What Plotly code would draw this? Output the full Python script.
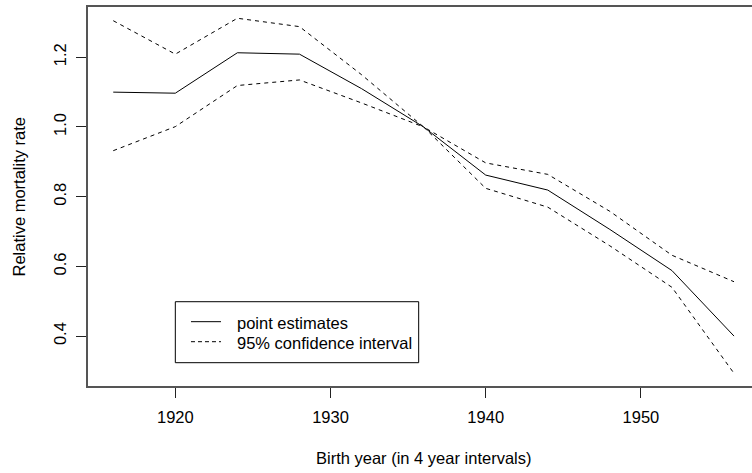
import plotly.graph_objects as go

# Data
birth_year = [1916, 1920, 1924, 1928, 1932, 1936, 1940, 1944, 1948, 1952, 1956]
point_est = [1.100, 1.097, 1.213, 1.209, 1.110, 1.000, 0.862, 0.819, 0.706, 0.588, 0.400]
upper_ci = [1.305, 1.209, 1.312, 1.288, 1.150, 1.000, 0.897, 0.864, 0.758, 0.632, 0.556]
lower_ci = [0.932, 1.001, 1.119, 1.135, 1.069, 1.000, 0.824, 0.770, 0.659, 0.540, 0.293]

x_ticks = [1920, 1930, 1940, 1950]
y_ticks = [0.4, 0.6, 0.8, 1.0, 1.2]
y_tick_labels = ["0.4", "0.6", "0.8", "1.0", "1.2"]
legend_labels = ["point estimates", "95% confidence interval"]

FONT = "Liberation Sans, Arial, sans-serif"
FS = 16.5

fig = go.Figure()
fig.add_trace(go.Scatter(x=birth_year, y=point_est, mode="lines",
                         line=dict(color="black", width=1), showlegend=False))
fig.add_trace(go.Scatter(x=birth_year, y=upper_ci, mode="lines",
                         line=dict(color="black", width=1, dash="4px,4px"), showlegend=False))
fig.add_trace(go.Scatter(x=birth_year, y=lower_ci, mode="lines",
                         line=dict(color="black", width=1, dash="4px,4px"), showlegend=False))

# custom legend box (R style)
fig.add_shape(type="rect", xref="paper", yref="paper", x0=0.1315, x1=0.4980, y0=0.0615, y1=0.2224,
              line=dict(color="black", width=1), fillcolor="white", layer="above")
fig.add_shape(type="line", xref="paper", yref="paper", x0=0.1551, x1=0.2003, y0=0.1697, y1=0.1697,
              line=dict(color="black", width=1))
fig.add_shape(type="line", xref="paper", yref="paper", x0=0.1551, x1=0.2003, y0=0.1169, y1=0.1169,
              line=dict(color="black", width=1, dash="4px,3px"))
fig.add_annotation(xref="paper", yref="paper", x=0.2214, y=0.1675, text=legend_labels[0],
                   showarrow=False, xanchor="left", yanchor="middle",
                   font=dict(family=FONT, size=FS, color="black"))
fig.add_annotation(xref="paper", yref="paper", x=0.2214, y=0.1135, text=legend_labels[1],
                   showarrow=False, xanchor="left", yanchor="middle",
                   font=dict(family=FONT, size=FS, color="black"))

# axis titles
fig.add_annotation(xref="paper", yref="paper", x=0.506, y=-0.19, text="Birth year (in 4 year intervals)",
                   showarrow=False, xanchor="center", yanchor="middle",
                   font=dict(family=FONT, size=FS, color="black"))
fig.add_annotation(xref="paper", yref="paper", x=-0.1054, y=0.5, text="Relative mortality rate",
                   showarrow=False, xanchor="center", yanchor="middle", textangle=-90,
                   font=dict(family=FONT, size=FS, color="black"))

fig.update_layout(
    width=752, height=473, autosize=False,
    margin=dict(l=88, r=0, t=7, b=87),
    paper_bgcolor="white", plot_bgcolor="white",
    font=dict(family=FONT, size=FS, color="black"),
    xaxis=dict(range=[1914.374, 1957.158], tickvals=x_ticks, ticks="outside", ticklen=10,
               tickwidth=1, tickcolor="#222", showline=True, linecolor="#555", linewidth=2,
               mirror=True, showgrid=False, zeroline=False, ticklabelstandoff=5,
               tickfont=dict(family=FONT, size=FS, color="black")),
    yaxis=dict(range=[0.2568, 1.3443], tickvals=y_ticks, ticktext=y_tick_labels, ticks="outside",
               ticklen=10, tickwidth=1, tickcolor="#222", showline=True, linecolor="#555",
               linewidth=2, mirror=False, showgrid=False, zeroline=False, tickangle=-90,
               ticklabelstandoff=3,
               tickfont=dict(family=FONT, size=FS, color="black")),
)

fig.write_html("out.html", config={"displayModeBar": False},
               post_script="document.body.style.margin='0';document.body.style.overflow='hidden';")
